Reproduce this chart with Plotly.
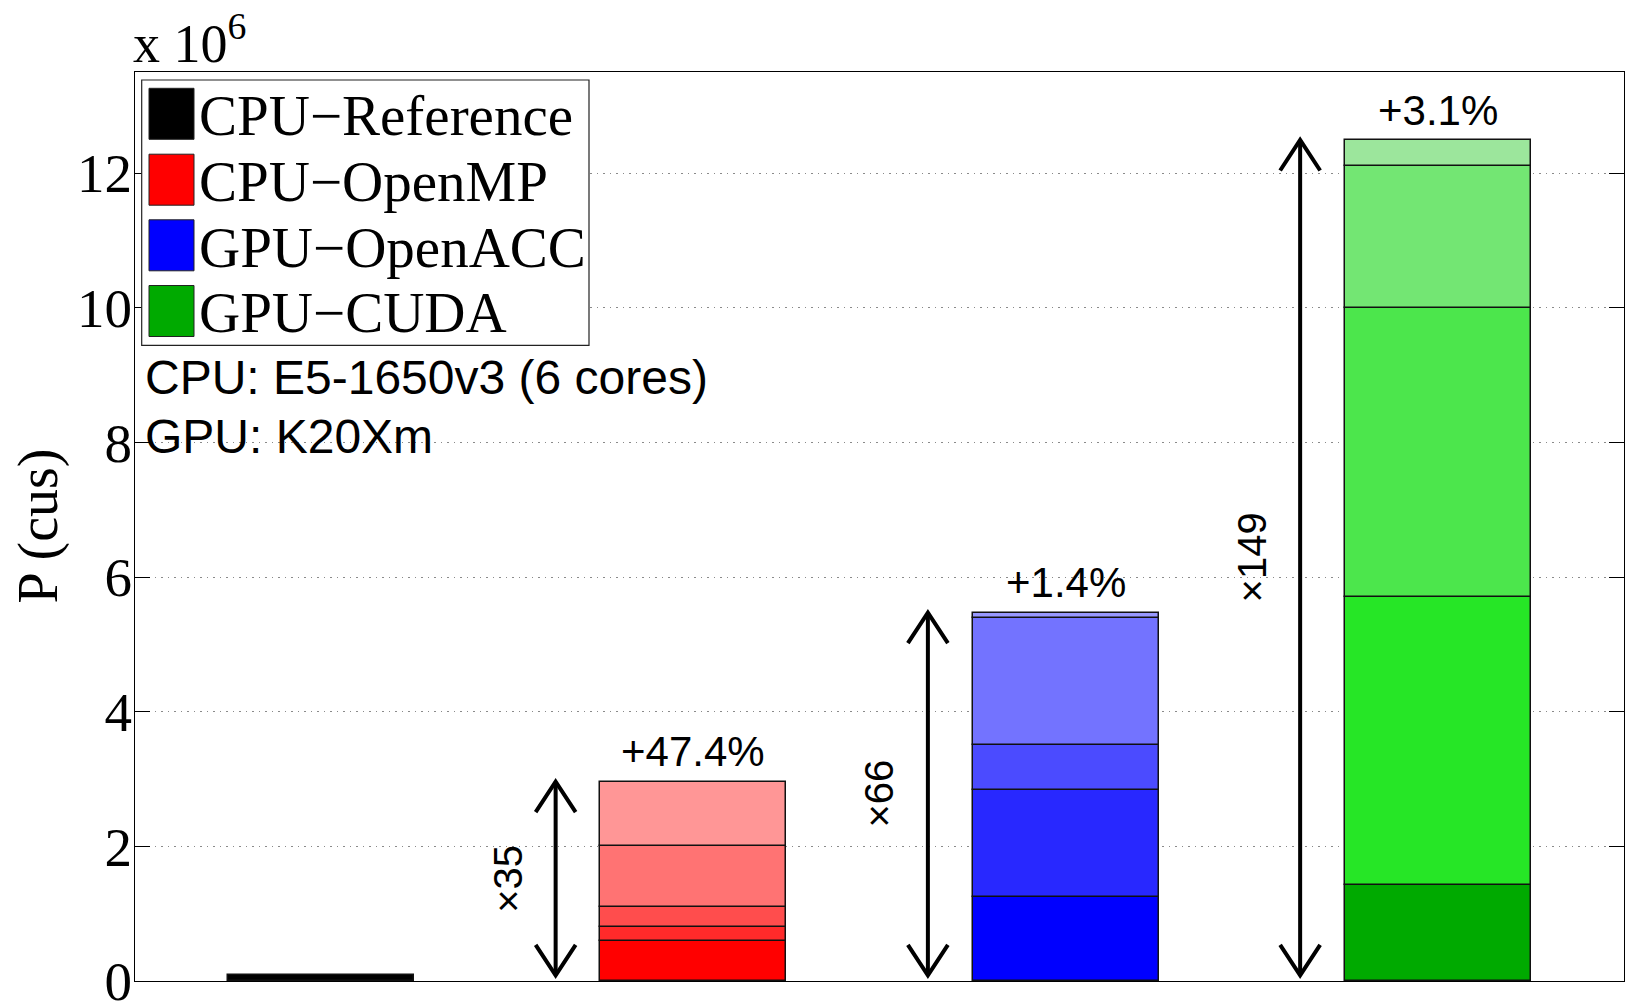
import plotly.graph_objects as go

# ---------------- data (values in units of 10^6) ----------------
categories = ["CPU-Reference", "CPU-OpenMP", "GPU-OpenACC", "GPU-CUDA"]
legend_labels = ["CPU\u2212Reference", "CPU\u2212OpenMP", "GPU\u2212OpenACC", "GPU\u2212CUDA"]
positions = [1, 2, 3, 4]

ref_level = [0.084]
openmp_levels = [0.59, 0.80, 1.10, 2.01, 2.96]
openacc_levels = [1.25, 2.84, 3.50, 5.395, 5.47]
cuda_levels = [1.43, 5.71, 10.0, 12.11, 12.49]

speedup_labels = ["\u00d735", "\u00d766", "\u00d7149"]
gain_labels = ["+47.4%", "+1.4%", "+3.1%"]

y_tick_values = [0, 2, 4, 6, 8, 10, 12]
y_tick_labels = ["0", "2", "4", "6", "8", "10", "12"]

info_lines = ["CPU: E5-1650v3 (6 cores)", "GPU: K20Xm"]

# ---------------- styles ----------------
legend_colors = ["#000000", "#FF0000", "#0000FF", "#00AA00"]
red_shades = ["#FF0000", "#FF2A2A", "#FF4D4D", "#FF7373", "#FF9696"]
blue_shades = ["#0000FF", "#2828FF", "#4B4BFF", "#7373FF", "#9999FF"]
green_shades = ["#00AA00", "#26E626", "#4CE64C", "#73E673", "#9CE69C"]

SERIF = "Liberation Serif"
SANS = "Liberation Sans"

W, H = 1626, 1001
ML, MR, MT, MB = 135, 2, 72, 20
PW, PH = W - ML - MR, H - MT - MB
XR = [0.5, 4.5]
YR = [0, 13.5]

fig = go.Figure()

groups = [
    (positions[0], ref_level, ["#000000"]),
    (positions[1], openmp_levels, red_shades),
    (positions[2], openacc_levels, blue_shades),
    (positions[3], cuda_levels, green_shades),
]
for pos, levels, shades in groups:
    prev = 0.0
    for lvl, col in zip(levels, shades):
        fig.add_trace(go.Bar(
            x=[pos], y=[lvl - prev], base=[prev], width=0.5,
            marker=dict(color=col, line=dict(color="#111111", width=1.5)),
            showlegend=False, hoverinfo="skip",
        ))
        prev = lvl

# arrows (double-headed, open chevrons) from reference level to each total
totals = [openmp_levels[-1], openacc_levels[-1], cuda_levels[-1]]
hw = 20 * (XR[1] - XR[0]) / PW
hh = 30.5 * (YR[1] - YR[0]) / PH
base_val = ref_level[0]
ax, ay = [], []
for pos, tot in zip(positions[1:], totals):
    xa = pos - 0.37
    ax += [xa, xa, None]
    ay += [base_val, tot, None]
    ax += [xa - hw, xa, xa + hw, None]
    ay += [tot - hh, tot, tot - hh, None]
    ax += [xa - hw, xa, xa + hw, None]
    ay += [base_val + hh, base_val, base_val + hh, None]
fig.add_trace(go.Scatter(x=ax, y=ay, mode="lines",
                         line=dict(color="black", width=4),
                         showlegend=False, hoverinfo="skip"))

annotations = []
for pos, tot, sl, gl in zip(positions[1:], totals, speedup_labels, gain_labels):
    annotations.append(dict(x=pos - 0.5, y=(base_val + tot) / 2, xref="x", yref="y",
                            text=sl, textangle=-90, showarrow=False,
                            font=dict(family=SANS, size=40, color="black"),
                            xanchor="center", yanchor="middle"))
    annotations.append(dict(x=pos, y=tot, xref="x", yref="y", text=gl,
                            showarrow=False, yshift=30,
                            font=dict(family=SANS, size=42, color="black"),
                            xanchor="center", yanchor="middle"))

def px_x(px):
    return (px - ML) / PW

def px_y(py):
    return (H - MB - py) / PH

# custom legend
shapes = [dict(type="rect", xref="paper", yref="paper",
               x0=px_x(141.7), x1=px_x(589), y0=px_y(345.4), y1=px_y(80),
               fillcolor="white", line=dict(color="#222222", width=1.2), layer="above")]
row_centers = [113.8, 179.7, 245.3, 311.0]
for lab, col, cy in zip(legend_labels, legend_colors, row_centers):
    shapes.append(dict(type="rect", xref="paper", yref="paper",
                       x0=px_x(149), x1=px_x(194), y0=px_y(cy + 25.5), y1=px_y(cy - 25.5),
                       fillcolor=col, line=dict(color="#222222", width=1), layer="above"))
    annotations.append(dict(x=px_x(197), y=px_y(cy + 2), xref="paper", yref="paper",
                            text=lab, showarrow=False, xanchor="left", yanchor="middle",
                            font=dict(family=SERIF, size=57, color="black")))

for line, cy in zip(info_lines, [378, 436]):
    annotations.append(dict(x=px_x(143), y=px_y(cy), xref="paper", yref="paper",
                            text=line, showarrow=False, xanchor="left", yanchor="middle",
                            font=dict(family=SANS, size=48, color="black")))

# axis exponent and y title
annotations.append(dict(x=px_x(131), y=px_y(76), xref="paper", yref="paper",
                        text="x 10<sup>6</sup>", showarrow=False,
                        xanchor="left", yanchor="bottom",
                        font=dict(family=SERIF, size=54, color="black")))
annotations.append(dict(x=px_x(38), y=0.5, xref="paper", yref="paper",
                        text="P (cus)", textangle=-90, showarrow=False,
                        xanchor="center", yanchor="middle",
                        font=dict(family=SERIF, size=56, color="black")))

fig.update_layout(
    width=W, height=H,
    margin=dict(l=ML, r=MR, t=MT, b=MB, pad=0, autoexpand=False),
    paper_bgcolor="white", plot_bgcolor="white",
    barmode="overlay", bargap=0,
    showlegend=False,
    shapes=shapes, annotations=annotations,
    xaxis=dict(range=XR, showticklabels=False, ticks="", showgrid=False,
               zeroline=False, showline=True, linecolor="black", linewidth=1.2,
               mirror=True, fixedrange=True, automargin=False),
    yaxis=dict(range=YR, tickvals=y_tick_values, ticktext=y_tick_labels,
               ticks="inside", ticklen=15, tickwidth=1.2, tickcolor="black",
               showline=True, linecolor="black", linewidth=1.2, mirror="ticks",
               showgrid=True, gridcolor="#8a8a8a", gridwidth=1, griddash="1.5px,5px",
               zeroline=False, ticklabelstandoff=-9, ticklabeloverflow="allow",
               tickfont=dict(family=SERIF, size=55, color="black"),
               fixedrange=True, automargin=False),
)

fig.write_html("out.html")
